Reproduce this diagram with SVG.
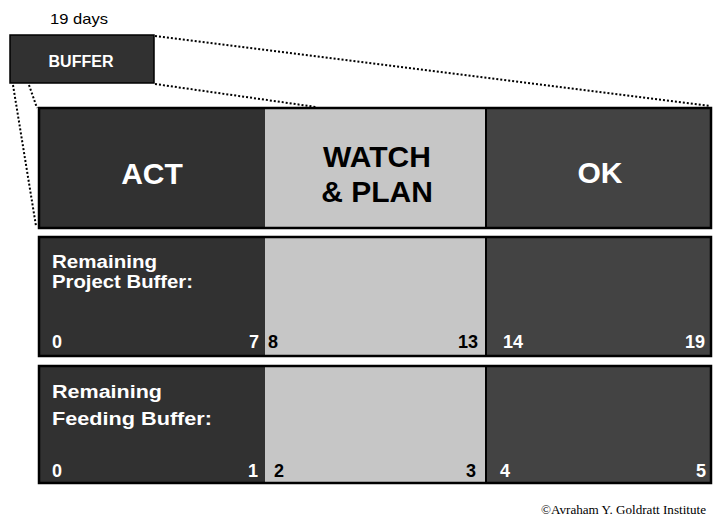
<svg xmlns="http://www.w3.org/2000/svg" width="718" height="519" viewBox="0 0 718 519">
  <style>
    .dark { fill: #313131; }
    .mid { fill: #434343; }
    .light { fill: #c6c6c6; }
    .frame { fill: none; stroke: #000; stroke-width: 2.5; }
    .sep { stroke: #000; stroke-width: 2; }
    .big { font-family: "Liberation Sans", Arial, sans-serif; font-weight: bold; font-size: 30px; text-anchor: middle; }
    .lbl { font-family: "Liberation Sans", Arial, sans-serif; font-weight: bold; font-size: 18px; fill: #fff; }
    .num { font-family: "Liberation Sans", Arial, sans-serif; font-weight: bold; font-size: 18px; }
    .w { fill: #fff; }
    .b { fill: #000; }
    .dot { fill: none; stroke: #000; stroke-width: 2; stroke-dasharray: 2 2; }
  </style>

  <text x="50" y="24" font-family="'Liberation Sans', Arial, sans-serif" font-size="15" textLength="58" lengthAdjust="spacingAndGlyphs" fill="#000">19 days</text>

  <g id="buffer">
    <rect x="10" y="35" width="144" height="48" class="dark" stroke="#000" stroke-width="1.5"/>
    <text x="81" y="67" font-family="'Liberation Sans', Arial, sans-serif" font-weight="bold" font-size="16" text-anchor="middle" fill="#fff">BUFFER</text>
  </g>

  <g id="connectors">
    <line x1="155" y1="36" x2="710" y2="106" class="dot"/>
    <line x1="155" y1="84" x2="316" y2="107" class="dot"/>
    <line x1="13" y1="85" x2="36" y2="226" class="dot"/>
    <line x1="29" y1="85" x2="37" y2="108" class="dot"/>
  </g>

  <g id="status-row">
    <rect x="39" y="108" width="226" height="120" class="dark"/>
    <rect x="265" y="108" width="221" height="120" class="light"/>
    <rect x="486" y="108" width="225" height="120" class="mid"/>
    <line x1="486" y1="108" x2="486" y2="228" class="sep"/>
    <rect x="39" y="108" width="672" height="120" class="frame"/>
    <text x="152" y="184" class="big w">ACT</text>
    <text x="377" y="167" class="big b">WATCH</text>
    <text x="377" y="202" class="big b">&amp; PLAN</text>
    <text x="600" y="183" class="big w">OK</text>
  </g>

  <g id="project-buffer-row">
    <rect x="39" y="237" width="226" height="119" class="dark"/>
    <rect x="265" y="237" width="221" height="119" class="light"/>
    <rect x="486" y="237" width="225" height="119" class="mid"/>
    <line x1="486" y1="237" x2="486" y2="356" class="sep"/>
    <rect x="39" y="237" width="672" height="119" class="frame"/>
    <text x="52" y="268" class="lbl" textLength="105" lengthAdjust="spacingAndGlyphs">Remaining</text>
    <text x="52" y="288" class="lbl" textLength="141" lengthAdjust="spacingAndGlyphs">Project Buffer:</text>
    <text x="52" y="348" class="num w">0</text>
    <text x="259" y="348" class="num w" text-anchor="end">7</text>
    <text x="268" y="348" class="num b">8</text>
    <text x="478" y="348" class="num b" text-anchor="end">13</text>
    <text x="503" y="348" class="num w">14</text>
    <text x="705" y="348" class="num w" text-anchor="end">19</text>
  </g>

  <g id="feeding-buffer-row">
    <rect x="39" y="366" width="226" height="117" class="dark"/>
    <rect x="265" y="366" width="221" height="117" class="light"/>
    <rect x="486" y="366" width="225" height="117" class="mid"/>
    <line x1="486" y1="366" x2="486" y2="483" class="sep"/>
    <rect x="39" y="366" width="672" height="117" class="frame"/>
    <text x="52" y="398" class="lbl" textLength="110" lengthAdjust="spacingAndGlyphs">Remaining</text>
    <text x="52" y="425" class="lbl" textLength="160" lengthAdjust="spacingAndGlyphs">Feeding Buffer:</text>
    <text x="52" y="477" class="num w">0</text>
    <text x="258" y="477" class="num w" text-anchor="end">1</text>
    <text x="274" y="477" class="num b">2</text>
    <text x="476" y="477" class="num b" text-anchor="end">3</text>
    <text x="500" y="477" class="num w">4</text>
    <text x="706" y="477" class="num w" text-anchor="end">5</text>
  </g>

  <text x="541" y="514" font-family="'Liberation Serif', 'Times New Roman', serif" font-size="12" textLength="165" lengthAdjust="spacingAndGlyphs" fill="#000">©Avraham Y. Goldratt Institute</text>
</svg>
